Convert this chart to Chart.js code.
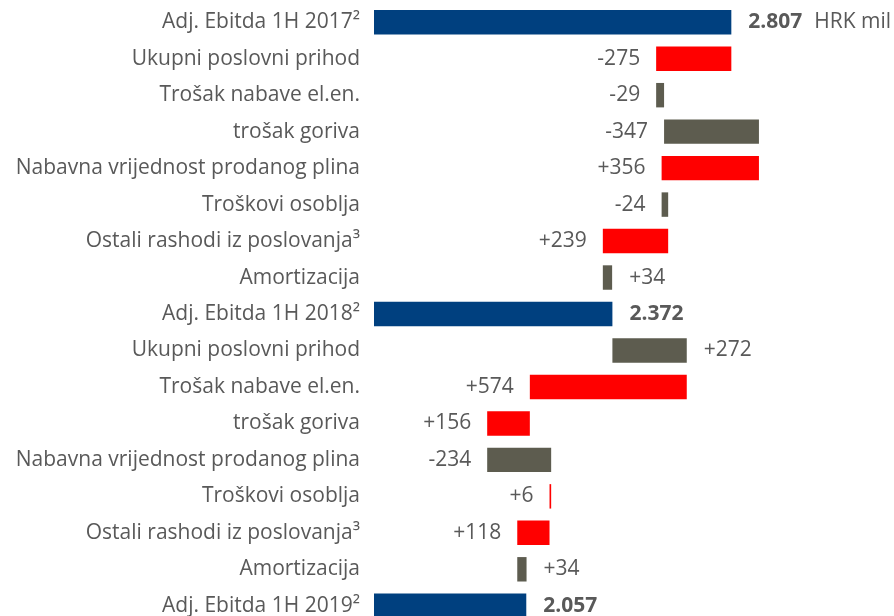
<!DOCTYPE html>
<html>
<head>
<meta charset="utf-8">
<script src="https://cdn.jsdelivr.net/npm/chart.js@4/dist/chart.umd.min.js"></script>
<style>
  html, body { margin: 0; padding: 0; overflow: hidden; background: #fff; }
  #wrap { position: relative; width: 894px; height: 624px; }
</style>
</head>
<body>
<div id="wrap"><canvas id="c"></canvas></div>
<script>
// ---- data ----
const categories = [
  "Adj. Ebitda 1H 2017²",
  "Ukupni poslovni prihod",
  "Trošak nabave el.en.",
  "trošak goriva",
  "Nabavna vrijednost prodanog plina",
  "Troškovi osoblja",
  "Ostali rashodi iz poslovanja³",
  "Amortizacija",
  "Adj. Ebitda 1H 2018²",
  "Ukupni poslovni prihod",
  "Trošak nabave el.en.",
  "trošak goriva",
  "Nabavna vrijednost prodanog plina",
  "Troškovi osoblja",
  "Ostali rashodi iz poslovanja³",
  "Amortizacija",
  "Adj. Ebitda 1H 2019²"
];
// row type: 'total' or 'delta'
const rowType = ["total","delta","delta","delta","delta","delta","delta","delta",
                 "total","delta","delta","delta","delta","delta","delta","delta","total"];
// totals (HRK mil) and effect of each item on EBITDA
const values = [2807, -275, 29, 347, -356, 24, -239, 34,
                2372, 272, -574, -156, 234, -6, -118, 34, 2057];
// labels printed next to bars
const valueLabels = ["2.807","-275","-29","-347","+356","-24","+239","+34",
                     "2.372","+272","+574","+156","-234","+6","+118","+34","2.057"];
const unitLabel = "HRK mil";
const axisMin = 1500;
const axisMax = 3402;

// ---- build floating bars ----
const bars = [];
const colors = [];
let cum = 0;
for (let i = 0; i < values.length; i++) {
  if (rowType[i] === "total") {
    cum = values[i];
    bars.push([axisMin, values[i]]);
    colors.push("#00407F");
  } else {
    const start = cum;
    cum += values[i];
    bars.push([start, cum]);
    colors.push(values[i] >= 0 ? "#5D5C4F" : "#FF0000");
  }
}
const labelSide = ["R","L","L","L","L","L","L","R","R","R","L","L","L","L","L","R","R"];

const FONT = "'Open Sans'";
const FSIZE = 21;
const TXT = "#595959";

const labelPlugin = {
  id: "valueLabels",
  afterDatasetsDraw(chart) {
    const ctx = chart.ctx;
    const meta = chart.getDatasetMeta(0);
    ctx.save();
    ctx.fillStyle = TXT;
    ctx.textBaseline = "middle";
    meta.data.forEach((el, i) => {
      const left = Math.min(el.x, el.base);
      const right = Math.max(el.x, el.base);
      const bold = rowType[i] === "total";
      ctx.font = (bold ? "bold " : "") + FSIZE + "px " + FONT;
      if (labelSide[i] === "R") {
        ctx.textAlign = "left";
        ctx.fillText(valueLabels[i], right + 17, el.y);
        if (i === 0) {
          const w = ctx.measureText(valueLabels[i]).width;
          ctx.font = FSIZE + "px " + FONT;
          ctx.fillText(unitLabel, right + 17 + w + 12, el.y);
        }
      } else {
        ctx.textAlign = "right";
        ctx.fillText(valueLabels[i], left - 16, el.y);
      }
    });
    ctx.restore();
  }
};

new Chart(document.getElementById("c"), {
  type: "bar",
  data: {
    labels: categories,
    datasets: [{
      data: bars,
      backgroundColor: colors,
      borderWidth: 0,
      categoryPercentage: 1,
      barPercentage: 0.67
    }]
  },
  options: {
    indexAxis: "y",
    responsive: true,
    maintainAspectRatio: false,
    animation: false,
    layout: { padding: { top: 4, bottom: 0, left: 0, right: 0 } },
    plugins: { legend: { display: false }, tooltip: { enabled: false } },
    scales: {
      x: {
        display: false,
        min: axisMin,
        max: axisMax
      },
      y: {
        grid: { display: false, drawTicks: false },
        border: { display: false },
        ticks: {
          color: TXT,
          font: { family: FONT, size: FSIZE },
          padding: 14,
          autoSkip: false
        },
        afterFit(scale) {
          scale.width = 374;
          scale.paddingTop = 0;
          scale.paddingBottom = 0;
        }
      }
    }
  },
  plugins: [labelPlugin]
});
</script>
</body>
</html>
